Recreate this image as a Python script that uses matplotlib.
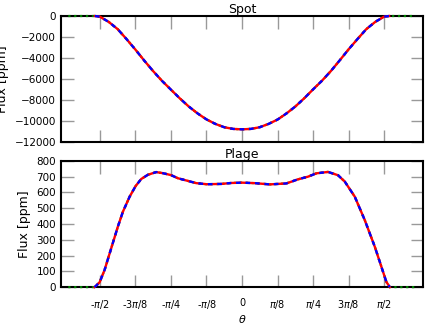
import numpy as np
import matplotlib
matplotlib.use("Agg")
import matplotlib.pyplot as plt

# Spot data (theta in rad, flux in ppm)
spot_theta = [-1.626, -1.571, -1.473, -1.374, -1.276, -1.178, -1.080, -0.982, -0.884, -0.785,
              -0.687, -0.589, -0.491, -0.393, -0.295, -0.196, -0.098, 0.0,
              0.098, 0.196, 0.295, 0.393, 0.491, 0.589, 0.687, 0.785, 0.884,
              0.982, 1.080, 1.178, 1.276, 1.374, 1.473, 1.571, 1.626]
spot_flux = [0, -60, -560, -1250, -2200, -3200, -4250, -5250, -6180, -7020,
             -7850, -8620, -9280, -9850, -10280, -10600, -10760, -10800,
             -10760, -10600, -10280, -9870, -9290, -8630, -7850, -7000, -6170,
             -5250, -4230, -3180, -2200, -1250, -560, -60, 0]

# Plage data
plage_theta = [-1.629, -1.574, -1.519, -1.446, -1.372, -1.316, -1.242, -1.176, -1.114, -1.040,
               -0.948, -0.874, -0.785, -0.708, -0.597, -0.506, -0.390, -0.229, -0.118, 0.0,
               0.140, 0.306, 0.490, 0.619, 0.730, 0.822, 0.951, 1.062, 1.136, 1.247,
               1.357, 1.468, 1.541, 1.596, 1.634]
plage_flux = [0, 30, 108, 245, 383, 478, 573, 640, 685, 712,
              729, 722, 710, 690, 673, 659, 652, 654, 660, 662,
              659, 651, 657, 683, 700, 721, 730, 709, 669, 573,
              425, 256, 129, 33, 0]

model_extent = 1.92

xtick_vals = [-np.pi/2, -3*np.pi/8, -np.pi/4, -np.pi/8, 0, np.pi/8, np.pi/4, 3*np.pi/8, np.pi/2]
xtick_labels = [r'-$\pi$/2', r'-3$\pi$/8', r'-$\pi$/4', r'-$\pi$/8', '0',
                r'$\pi$/8', r'$\pi$/4', r'3$\pi$/8', r'$\pi$/2']

fig = plt.figure(figsize=(4.36, 3.27), dpi=100)
ax1 = fig.add_axes([0.140, 0.566, 0.830, 0.385])
ax2 = fig.add_axes([0.140, 0.122, 0.830, 0.386])


def draw(ax, th, fl):
    gx = [-model_extent] + list(th) + [model_extent]
    gy = [0] + list(fl) + [0]
    ax.plot(gx, gy, color='green', ls=':', lw=1.6, zorder=3, clip_on=False)
    ax.plot(th, fl, color='red', ls='-', lw=1.7, zorder=4, clip_on=False)
    ax.plot(th, fl, color='blue', ls=(0, (2, 2)), lw=1.7, zorder=5, clip_on=False)
    ax.set_xlim(-2.0, 2.0)
    ax.set_xticks(xtick_vals)
    for s in ax.spines.values():
        s.set_linewidth(1.5)
        s.set_color('black')
    ax.tick_params(direction='in', length=9, width=1, color='#999999',
                   top=True, right=True, labelsize=7.5)
    ax.set_ylabel('Flux [ppm]', fontsize=9)


draw(ax1, spot_theta, spot_flux)
ax1.set_ylim(-12000, 0)
ax1.set_yticks(np.arange(-12000, 1, 2000))
ax1.set_xticklabels([])
ax1.set_title('Spot', fontsize=9, pad=2)

draw(ax2, plage_theta, plage_flux)
ax2.set_ylim(0, 800)
ax2.set_yticks(np.arange(0, 801, 100))
ax2.set_xticklabels(xtick_labels, fontsize=7)
ax2.tick_params(axis='x', pad=8)
ax2.set_title('Plage', fontsize=9, pad=2)
ax2.set_xlabel(r'$\theta$', fontsize=8, labelpad=1)

fig.savefig('out.png', dpi=100)
